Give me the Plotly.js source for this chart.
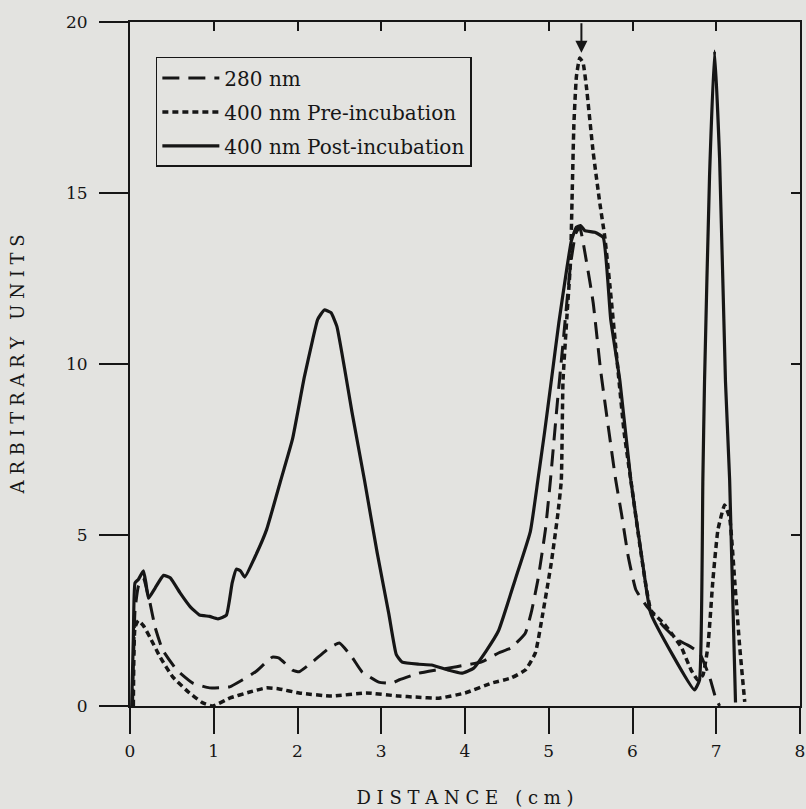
<!DOCTYPE html>
<html>
<head>
<meta charset="utf-8">
<script src="https://cdn.plot.ly/plotly-3.0.1.min.js"></script>
<style>html,body{margin:0;padding:0;background:#e3e3e0;}#chart{width:806px;height:809px;}</style>
</head>
<body>
<div id="chart"></div>
<script>
// Series names (legend labels)
const seriesNames = ["280 nm", "400 nm Pre-incubation", "400 nm Post-incubation"];

// Tick labels
const xTicks = [0, 1, 2, 3, 4, 5, 6, 7, 8];
const yTicks = [0, 5, 10, 15, 20];

// 280 nm (long dashes)
const x280 = [0.03,0.06,0.10,0.16,0.20,0.24,0.30,0.39,0.56,0.75,0.95,1.19,1.34,1.50,1.70,1.78,1.94,2.02,2.18,2.38,2.50,2.65,2.77,2.97,3.13,3.21,3.45,3.65,3.90,4.20,4.40,4.55,4.72,4.79,4.87,4.96,5.02,5.10,5.17,5.26,5.32,5.37,5.45,5.53,5.62,5.72,5.80,5.87,5.95,6.04,6.16,6.38,6.54,6.66,6.80,6.92,6.99,7.04];
const y280 = [0,2.8,3.5,3.75,3.4,3.0,2.3,1.64,1.05,0.67,0.53,0.56,0.76,1.0,1.43,1.4,1.05,1.0,1.29,1.7,1.84,1.43,1.0,0.7,0.67,0.76,0.96,1.05,1.15,1.29,1.55,1.7,2.13,2.72,3.68,5.15,6.6,8.8,10.6,12.9,13.8,14.0,13.0,11.8,9.8,8.0,6.6,5.6,4.36,3.4,2.95,2.3,1.93,1.78,1.55,0.85,0.26,0];

// 400 nm pre-incubation (short dashes)
const xPre = [0.04,0.06,0.10,0.16,0.24,0.36,0.51,0.71,0.87,0.99,1.19,1.43,1.63,1.78,2.02,2.41,2.82,3.21,3.41,3.69,4.00,4.32,4.55,4.72,4.84,4.93,5.03,5.11,5.15,5.17,5.22,5.26,5.28,5.30,5.33,5.37,5.41,5.45,5.53,5.61,5.67,5.73,5.80,5.90,5.98,6.10,6.22,6.38,6.58,6.70,6.78,6.84,6.90,6.96,7.02,7.10,7.16,7.22,7.28,7.34];
const yPre = [0,2.3,2.5,2.35,2.0,1.43,0.85,0.38,0.09,0,0.23,0.41,0.53,0.5,0.38,0.29,0.38,0.29,0.26,0.23,0.38,0.67,0.82,1.05,1.55,2.72,4.18,5.64,6.6,9.5,11.5,13.0,15.0,17.0,18.4,18.95,18.8,18.1,16.2,14.7,13.7,12.3,10.5,8.0,6.6,4.5,2.8,2.4,1.73,1.05,0.76,0.9,1.73,3.68,5.15,5.88,5.5,3.68,1.73,0.12];

// 400 nm post-incubation (solid)
const xPost = [0.02,0.04,0.06,0.10,0.16,0.19,0.22,0.30,0.40,0.48,0.60,0.72,0.83,0.95,1.05,1.15,1.22,1.27,1.32,1.37,1.50,1.63,1.80,1.94,2.08,2.18,2.24,2.32,2.40,2.47,2.56,2.65,2.80,2.95,3.09,3.18,3.25,3.45,3.60,3.80,3.96,4.10,4.25,4.40,4.60,4.78,4.87,4.95,5.03,5.12,5.21,5.27,5.33,5.38,5.43,5.55,5.65,5.74,5.85,5.98,6.12,6.22,6.74,6.80,6.84,6.86,6.92,6.98,7.04,7.11,7.16,7.23];
const yPost = [0,2.0,3.6,3.7,3.95,3.6,3.15,3.45,3.82,3.75,3.3,2.9,2.66,2.62,2.55,2.65,3.6,4.0,3.95,3.77,4.4,5.15,6.6,7.8,9.6,10.7,11.3,11.58,11.5,11.1,9.9,8.6,6.6,4.5,2.7,1.5,1.28,1.22,1.2,1.05,0.96,1.1,1.6,2.2,3.7,5.1,6.6,8.0,9.5,11.2,12.7,13.6,14.0,14.05,13.9,13.85,13.7,11.3,9.5,6.6,4.2,2.7,0.47,0.76,6.6,9.5,15.5,19.15,16,9.5,6.6,0.1];

const INK = '#161616';
const FONT = 'DejaVu Serif, Liberation Serif, serif';

const traces = [
  {x: x280, y: y280, name: seriesNames[0], legendgroup: 'a', mode: 'lines',
   line: {color: INK, width: 3, dash: '17px,9px', shape: 'spline', smoothing: 0.4}},
  {x: xPre, y: yPre, name: seriesNames[1], legendgroup: 'b', mode: 'lines',
   line: {color: INK, width: 3.5, dash: '6px,4px', shape: 'spline', smoothing: 0.4}},
  {x: xPost, y: yPost, name: seriesNames[2], legendgroup: 'c', mode: 'lines',
   line: {color: INK, width: 3.2, shape: 'spline', smoothing: 0.4}},
  {x: xPost, y: yPost, xaxis: 'x2', yaxis: 'y2', mode: 'lines', showlegend: false,
   hoverinfo: 'skip', line: {color: 'rgba(0,0,0,0)', width: 0}}
];

const layout = {
  width: 806, height: 809,
  paper_bgcolor: '#e3e3e0', plot_bgcolor: '#e3e3e0',
  margin: {l: 130, r: 6, t: 22, b: 103},
  font: {family: FONT, color: INK, size: 17},
  showlegend: true,
  legend: {
    x: 0.0386, y: 0.949, xanchor: 'left', yanchor: 'top',
    bgcolor: 'rgba(0,0,0,0)', bordercolor: INK, borderwidth: 1.5,
    font: {family: FONT, size: 20, color: INK},
    itemwidth: 57, tracegroupgap: 5, traceorder: 'grouped', entrywidth: 350
  },
  xaxis: {
    range: [0, 8], tickvals: xTicks, ticktext: xTicks.map(String),
    ticks: 'outside', ticklen: 26, tickwidth: 2, tickcolor: INK,
    showline: true, linewidth: 2, linecolor: INK,
    showgrid: false, zeroline: false, ticklabelstandoff: 3,
    tickfont: {family: FONT, size: 17, color: INK},
    title: {text: 'D I S T A N C E   ( c m )', standoff: 31, font: {family: FONT, size: 18, color: INK}}
  },
  yaxis: {
    range: [0, 20], tickvals: yTicks, ticktext: yTicks.map(String),
    ticks: 'outside', ticklen: 29, tickwidth: 2, tickcolor: INK,
    showline: true, linewidth: 2, linecolor: INK,
    showgrid: false, zeroline: false, ticklabelstandoff: 8,
    tickfont: {family: FONT, size: 17, color: INK},
    title: {text: 'A R B I T R A R Y   U N I T S', standoff: 37, font: {family: FONT, size: 18, color: INK}}
  },
  xaxis2: {
    overlaying: 'x', side: 'top', anchor: 'y2', range: [0, 8], tickvals: xTicks,
    ticks: 'inside', ticklen: 9, tickwidth: 2, tickcolor: INK,
    showticklabels: false, showline: true, linewidth: 2, linecolor: INK,
    showgrid: false, zeroline: false
  },
  yaxis2: {
    overlaying: 'y', side: 'right', anchor: 'x2', range: [0, 20], tickvals: yTicks,
    ticks: 'inside', ticklen: 9, tickwidth: 2, tickcolor: INK,
    showticklabels: false, showline: true, linewidth: 2, linecolor: INK,
    showgrid: false, zeroline: false
  },
  annotations: [{
    x: 5.39, y: 19.1, xref: 'x', yref: 'y', text: '', showarrow: true,
    ax: 0, ay: -31, arrowhead: 2, arrowsize: 1.2, arrowwidth: 2, arrowcolor: INK
  }]
};

Plotly.newPlot('chart', traces, layout, {displayModeBar: false, staticPlot: true});
</script>
</body>
</html>
